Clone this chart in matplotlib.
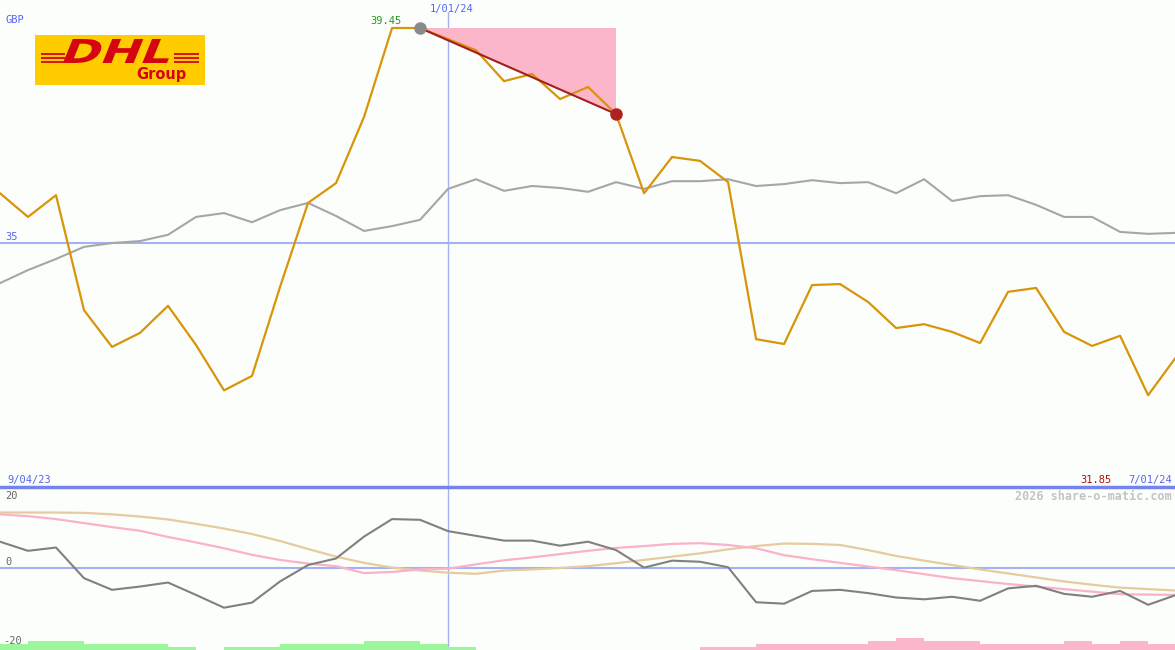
import numpy as np
import matplotlib.pyplot as plt
from matplotlib.patches import Rectangle, PathPatch
from matplotlib.textpath import TextPath
from matplotlib.font_manager import FontProperties
from matplotlib.transforms import Affine2D

# weekly closes, GBP (9/04/23 .. 7/01/24)
price = [36.03, 35.54, 35.99, 33.61, 32.85, 33.14, 33.70, 32.89, 31.95, 32.25,
         34.09, 35.83, 36.24, 37.61, 39.45, 39.45, 39.22, 38.99, 38.35, 38.50,
         37.98, 38.23, 37.67, 36.03, 36.78, 36.70, 36.26, 33.01, 32.91, 34.13,
         34.15, 33.78, 33.24, 33.32, 33.16, 32.93, 33.99, 34.07, 33.16, 32.87,
         33.08, 31.85, 32.64]
# relative / index line
index_line = [34.17, 34.44, 34.67, 34.92, 35.00, 35.04, 35.17, 35.54, 35.62, 35.43,
              35.68, 35.83, 35.56, 35.25, 35.35, 35.48, 36.12, 36.32, 36.08, 36.18,
              36.14, 36.06, 36.26, 36.12, 36.28, 36.28, 36.32, 36.18, 36.22, 36.30,
              36.24, 36.26, 36.03, 36.32, 35.87, 35.97, 35.99, 35.79, 35.54, 35.54,
              35.23, 35.19, 35.21]
# lower panel oscillators
momentum = [7.2, 4.7, 5.6, -2.8, -6.0, -5.1, -4.0, -7.4, -10.9, -9.5,
            -3.7, 0.8, 2.6, 8.6, 13.4, 13.2, 10.1, 8.8, 7.5, 7.5,
            6.1, 7.2, 4.9, 0.1, 2.0, 1.7, 0.2, -9.4, -9.8, -6.3,
            -6.0, -6.9, -8.1, -8.6, -7.9, -9.0, -5.6, -4.9, -7.1, -7.9,
            -6.3, -10.1, -7.4]
fast_avg = [14.7, 14.2, 13.4, 12.3, 11.2, 10.2, 8.5, 7.0, 5.4, 3.6,
            2.2, 1.2, 0.5, -1.4, -1.1, -0.4, -0.2, 1.0, 2.1, 2.9,
            3.8, 4.7, 5.5, 6.0, 6.6, 6.8, 6.3, 5.4, 3.5, 2.4,
            1.4, 0.4, -0.6, -1.7, -2.8, -3.6, -4.4, -5.1, -5.8, -6.5,
            -7.2, -7.3, -7.4]
slow_avg = [15.2, 15.2, 15.2, 15.1, 14.7, 14.1, 13.3, 12.1, 10.8, 9.3,
            7.4, 5.2, 3.1, 1.4, 0.1, -0.7, -1.3, -1.6, -0.7, -0.4,
            0.0, 0.5, 1.3, 2.2, 3.1, 4.0, 5.1, 6.0, 6.7, 6.6,
            6.3, 4.9, 3.3, 2.0, 0.8, -0.4, -1.5, -2.6, -3.7, -4.6,
            -5.4, -5.8, -6.2]
# weekly signal strength, + green / - pink
signal = [2, 3, 3, 2, 2, 2, 1, 0, 1, 1,
          2, 2, 2, 3, 3, 2, 1, 0, 0, 0,
          0, 0, 0, 0, 0, -1, -1, -2, -2, -2,
          -2, -3, -4, -3, -3, -2, -2, -2, -3, -2,
          -3, -2]

peak_i, last_i = 15, 22
bg = '#fcfefc'
blue_txt = '#5566ee'
mono = 'DejaVu Sans Mono'

x = np.arange(len(price))
fig = plt.figure(figsize=(11.75, 6.5), dpi=100, facecolor=bg)
ax = fig.add_axes([0, 163 / 650, 1, 487 / 650])
ax2 = fig.add_axes([0, 0, 1, 163 / 650])
for a in (ax, ax2):
    a.set_facecolor(bg)
    a.set_xlim(0, 41.96)
    a.set_xticks([])
    a.set_yticks([])
    for s in a.spines.values():
        s.set_visible(False)

# main panel
ax.set_ylim(29.95, 40.03)
ax.axhline(35, color='#a4b2f4', lw=1.5, zorder=1)
ax.axvline(16, ymax=0.975, color='#a4b2f4', lw=1, zorder=1)
ax.fill([peak_i, last_i, last_i], [price[peak_i], price[peak_i], price[last_i]],
        color='#fbb6ca', lw=0, zorder=2)
ax.plot(x, index_line, color='#a6a6a6', lw=1.5, zorder=3)
ax.plot(x, price, color='#d99508', lw=1.6, zorder=4)
ax.plot([peak_i, last_i], [price[peak_i], price[last_i]], color='#a31e1e', lw=1.5, zorder=5)
ax.plot(peak_i, price[peak_i], 'o', color='#8a8a8a', ms=8, zorder=6)
ax.plot(last_i, price[last_i], 'o', color='#b02020', ms=8, zorder=6)

fs = 7.5
fig.text(5 / 1175, 1 - 20 / 650, 'GBP', color=blue_txt, fontsize=fs, family=mono, va='center')
fig.text(402 / 1175, 1 - 21 / 650, '39.45', color='#229922', fontsize=fs, family=mono,
         va='center', ha='right')
fig.text(452 / 1175, 1 - 9 / 650, '1/01/24', color=blue_txt, fontsize=fs, family=mono,
         va='center', ha='center')
fig.text(5 / 1175, 1 - 237 / 650, '35', color=blue_txt, fontsize=fs, family=mono, va='center')
fig.text(7 / 1175, 1 - 480 / 650, '9/04/23', color=blue_txt, fontsize=fs, family=mono, va='center')
fig.text(1112 / 1175, 1 - 480 / 650, '31.85', color='#aa1111', fontsize=fs, family=mono,
         va='center', ha='right')
fig.text(1172 / 1175, 1 - 480 / 650, '7/01/24', color=blue_txt, fontsize=fs, family=mono,
         va='center', ha='right')

# divider
fig.add_artist(plt.Line2D([0, 1], [163 / 650, 163 / 650], color='#7484ec', lw=2.5))

# lower panel
ax2.set_ylim(-22.5, 22.2)
ax2.axhline(0, color='#a4b2f4', lw=1.5, zorder=1)
ax2.axvline(16, color='#a4b2f4', lw=1, zorder=1)
sig = np.array(signal)
cols = ['#9cf79c' if v > 0 else '#fbb6ca' for v in sig]
ax2.bar(np.arange(len(sig)) + 0.5, np.abs(sig) * 0.82, width=1.0, bottom=-22.5,
        color=cols, lw=0, zorder=2)
ax2.plot(x, slow_avg, color='#e4cc9c', lw=1.6, zorder=3)
ax2.plot(x, fast_avg, color='#fbb2c8', lw=1.6, zorder=3)
ax2.plot(x, momentum, color='#808080', lw=1.5, zorder=4)
fig.text(5 / 1175, 1 - 496 / 650, '20', color='#666666', fontsize=fs, family=mono, va='center')
fig.text(5 / 1175, 1 - 562 / 650, '0', color='#666666', fontsize=fs, family=mono, va='center')
fig.text(3 / 1175, 1 - 641 / 650, '-20', color='#666666', fontsize=fs, family=mono, va='center')
fig.text(1172 / 1175, 1 - 496 / 650, '2026 share-o-matic.com', color='#c4c4c4', fontsize=8.5,
         family=mono, weight='bold', va='center', ha='right')

# logo (pixel units inside the yellow box, y up)
red = '#d40511'
logo = fig.add_axes([35 / 1175, 1 - 85 / 650, 170 / 1175, 50 / 650])
logo.set_xlim(0, 170)
logo.set_ylim(0, 50)
logo.axis('off')
logo.add_patch(Rectangle((0, 0), 170, 50, color='#ffcc00', lw=0))
for yy in (31.5, 27.5, 23.5):
    logo.plot([6, 30], [yy, yy], color=red, lw=1.3, solid_capstyle='butt')
    logo.plot([139, 164], [yy, yy], color=red, lw=1.3, solid_capstyle='butt')
tp = TextPath((0, 0), 'DHL', size=1, prop=FontProperties(family='DejaVu Sans', weight='bold'))
bb = tp.get_extents()
tr = (Affine2D().translate(-bb.x0, -bb.y0).scale(104 / bb.width, 24 / bb.height)
      .skew_deg(22, 0).translate(28, 22))
logo.add_patch(PathPatch(tr.transform_path(tp), color=red, lw=0))
logo.text(126, 11, 'Group', color=red, fontsize=10.5, weight='bold',
          ha='center', va='center', family='DejaVu Sans')

plt.savefig('out.png', dpi=100, facecolor=bg)
